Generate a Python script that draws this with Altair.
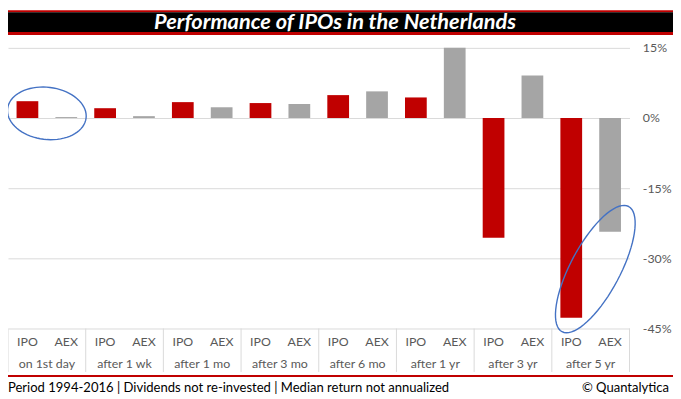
import math
import altair as alt
import pandas as pd

# ---------------- data ----------------
groups = ["on 1st day", "after 1 wk", "after 1 mo", "after 3 mo",
          "after 6 mo", "after 1 yr", "after 3 yr", "after 5 yr"]
series = ["IPO", "AEX"]
ipo_values = [3.6, 2.1, 3.4, 3.2, 4.9, 4.4, -25.6, -42.7]
aex_values = [0.2, 0.4, 2.3, 3.0, 5.7, 15.0, 9.1, -24.3]
y_ticks = [15, 0, -15, -30, -45]

title_text = "Performance of IPOs in the Netherlands"
footer_left = "Period 1994-2016 | Dividends not re-invested | Median return not annualized"
footer_right = "\u00a9 Quantalytica"

# annotation ellipses (centre given in data terms)
note_groups = ["on 1st day", "after 5 yr"]
note_values = [1.0, -32.3]

# ---------------- styling ----------------
W, H = 629, 284
RED, GREY, GRID, LABEL = "#C00000", "#A5A5A5", "#D9D9D9", "#595959"
FONT = "Lato"

rows = []
for g, a, b in zip(groups, ipo_values, aex_values):
    rows.append({"group": g, "series": "IPO", "value": a})
    rows.append({"group": g, "series": "AEX", "value": b})
df = pd.DataFrame(rows)
gdf = pd.DataFrame({"group": groups})
one = pd.DataFrame({"k": [0]})

xs = alt.Scale(domain=groups, paddingInner=0, paddingOuter=0)
xo = alt.Scale(domain=series, paddingInner=0, paddingOuter=0)
ys = alt.Scale(domain=[-45, 15], nice=False, zero=False)


def ellipse_path(ratio, n=72):
    pts = []
    for i in range(n):
        t = 2 * math.pi * i / n
        pts.append(f"{math.cos(t):.4f},{ratio * math.sin(t):.4f}")
    return "M" + " L".join(pts) + " Z"


bars = alt.Chart(df).mark_bar(width=22).encode(
    x=alt.X("group:N", scale=xs, axis=None, sort=groups),
    xOffset=alt.XOffset("series:N", scale=xo, sort=series),
    y=alt.Y("value:Q", scale=ys, title=None,
            axis=alt.Axis(orient="right", values=y_ticks, grid=True, gridColor=GRID,
                          gridWidth=1, domain=False, ticks=False, labelAlign="left",
                          labelPadding=13, labelColor=LABEL, labelFont=FONT,
                          labelFontSize=12.5, labelExpr="datum.value + '%'")),
    color=alt.Color("series:N", scale=alt.Scale(domain=series, range=[RED, GREY]), legend=None),
)

seps = alt.Chart(gdf).mark_rule(color=GRID, strokeWidth=1).encode(
    x=alt.X("group:N", scale=xs, sort=groups, bandPosition=0, axis=None),
    y=alt.value(H), y2=alt.value(H + 44),
)
sep_end = alt.Chart(one).mark_rule(color=GRID, strokeWidth=1).encode(
    x=alt.value(W), y=alt.value(H), y2=alt.value(H + 44),
)

series_lbl = alt.Chart(df).mark_text(font=FONT, fontSize=12.5, color=LABEL, baseline="middle").encode(
    x=alt.X("group:N", scale=xs, sort=groups, axis=None),
    xOffset=alt.XOffset("series:N", scale=xo, sort=series),
    y=alt.value(H + 14),
    text="series:N",
)
group_lbl = alt.Chart(gdf).mark_text(font=FONT, fontSize=12.5, color=LABEL, baseline="middle").encode(
    x=alt.X("group:N", scale=xs, sort=groups, axis=None),
    y=alt.value(H + 36),
    text="group:N",
)

ell1 = alt.Chart(pd.DataFrame({"group": [note_groups[0]], "value": [note_values[0]]})).mark_point(
    shape=ellipse_path(0.66), filled=False, stroke="#4472C4", strokeWidth=1.4, opacity=1,
    size=6400, angle=7,
).encode(x=alt.X("group:N", scale=xs, sort=groups, axis=None), y=alt.Y("value:Q", scale=ys))
ell2 = alt.Chart(pd.DataFrame({"group": [note_groups[1]], "value": [note_values[1]]})).mark_point(
    shape=ellipse_path(0.35), filled=False, stroke="#4472C4", strokeWidth=1.4, opacity=1,
    size=20600, angle=298,
).encode(x=alt.X("group:N", scale=xs, sort=groups, axis=None), y=alt.Y("value:Q", scale=ys),
         xOffset=alt.value(44))

band_red1 = alt.Chart(one).mark_rect(color=RED).encode(
    x=alt.value(0), x2=alt.value(673), y=alt.value(-38), y2=alt.value(-36))
band_black = alt.Chart(one).mark_rect(color="#000000").encode(
    x=alt.value(0), x2=alt.value(673), y=alt.value(-36), y2=alt.value(-16))
band_red2 = alt.Chart(one).mark_rect(color=RED).encode(
    x=alt.value(0), x2=alt.value(673), y=alt.value(-16), y2=alt.value(-13))
title = alt.Chart(one).mark_text(font=FONT, fontSize=22, fontWeight="bold", fontStyle="italic",
                                 color="white", baseline="middle", align="center").encode(
    x=alt.value(331), y=alt.value(-26), text=alt.value(title_text))

foot_rule = alt.Chart(one).mark_rule(color=RED, strokeWidth=2).encode(
    x=alt.value(0), x2=alt.value(673), y=alt.value(H + 48))
foot_l = alt.Chart(one).mark_text(font=FONT, fontSize=13.2, color="#000000", align="left",
                                  baseline="middle").encode(
    x=alt.value(0), y=alt.value(H + 60), text=alt.value(footer_left))
foot_r = alt.Chart(one).mark_text(font=FONT, fontSize=13.2, color="#000000", align="right",
                                  baseline="middle").encode(
    x=alt.value(669), y=alt.value(H + 60), text=alt.value(footer_right))

chart = alt.layer(
    seps, sep_end, bars, series_lbl, group_lbl, ell1, ell2,
    band_red1, band_black, band_red2, title, foot_rule, foot_l, foot_r,
).properties(
    width=W, height=H,
    autosize=alt.AutoSizeParams(type="none"),
    padding={"left": 0, "top": 38, "right": 44, "bottom": 69},
    background="white",
).configure_view(strokeWidth=0)

chart.save("out.html", embed_options={"renderer": "svg", "actions": False})
